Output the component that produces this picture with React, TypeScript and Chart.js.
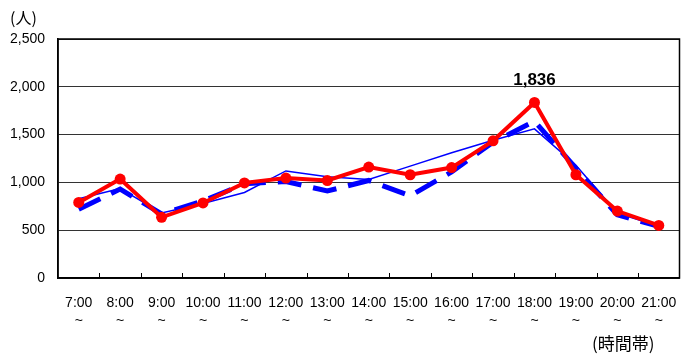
import React, { useEffect, useRef } from "react";
import { Chart, registerables } from "chart.js";

Chart.register(...registerables);

const categories = ["7:00", "8:00", "9:00", "10:00", "11:00", "12:00", "13:00", "14:00", "15:00", "16:00", "17:00", "18:00", "19:00", "20:00", "21:00"];
const redSeries = [790, 1035, 635, 785, 995, 1045, 1020, 1160, 1080, 1155, 1435, 1836, 1080, 700, 550];
const blueDashedSeries = [720, 930, 670, 805, 985, 1010, 910, 1020, 860, 1110, 1420, 1640, 1150, 660, 540];
const blueThinSeries = [830, 935, 680, 780, 895, 1120, 1060, 1030, 1170, 1310, 1440, 1560, 1180, 680, 540];
const yTicks = [0, 500, 1000, 1500, 2000, 2500];
const peakIndex = 11;
const yUnitLabel = "(人)";
const xUnitLabel = "(時間帯)";

const FONT = "'Liberation Sans', Arial, sans-serif";
const CJK = "'Noto Sans CJK JP', sans-serif";

const decorPlugin = {
  id: "decor",
  afterDraw(chart: any) {
    const { ctx, chartArea } = chart;
    const xs = chart.scales.x;
    ctx.save();
    ctx.strokeStyle = "#000";
    ctx.lineWidth = 1.5;
    ctx.strokeRect(chartArea.left, chartArea.top, chartArea.right - chartArea.left, chartArea.bottom - chartArea.top);
    ctx.lineWidth = 1;
    for (let i = 0; i < categories.length - 1; i++) {
      const x = Math.round((xs.getPixelForValue(i) + xs.getPixelForValue(i + 1)) / 2) + 0.5;
      ctx.beginPath();
      ctx.moveTo(x, chartArea.bottom);
      ctx.lineTo(x, chartArea.bottom - 5);
      ctx.stroke();
    }
    const meta = chart.getDatasetMeta(0);
    const pt = meta.data[peakIndex];
    ctx.fillStyle = "#000";
    ctx.font = "bold 17px " + FONT;
    ctx.textAlign = "center";
    ctx.textBaseline = "middle";
    ctx.fillText(redSeries[peakIndex].toLocaleString("en-US"), pt.x, pt.y - 22);
    ctx.textAlign = "left";
    ctx.font = "16px " + CJK;
    ctx.fillText(yUnitLabel, 10, 18);
    ctx.font = "17px " + CJK;
    ctx.fillText(xUnitLabel, 592, 344);
    ctx.restore();
  },
};

export default function App() {
  const ref = useRef<HTMLCanvasElement>(null);
  useEffect(() => {
    document.body.style.margin = "0";
    const chart = new Chart(ref.current!, {
      type: "line",
      data: {
        labels: categories.map((c) => [c, "~"]),
        datasets: [
          {
            data: redSeries,
            borderColor: "#ff0000",
            backgroundColor: "#ff0000",
            borderWidth: 4,
            pointRadius: 5.5,
            pointBorderWidth: 0,
            pointBackgroundColor: "#ff0000",
            tension: 0,
          },
          {
            data: blueThinSeries,
            borderColor: "#0000ff",
            borderWidth: 1.5,
            pointRadius: 0,
            tension: 0,
          },
          {
            data: blueDashedSeries,
            borderColor: "#0000ff",
            borderWidth: 5,
            borderDash: [24, 12],
            pointRadius: 0,
            tension: 0,
          },
        ],
      },
      options: {
        animation: false,
        responsive: false,
        layout: { padding: { left: 0, right: 4, top: 39, bottom: 0 } },
        plugins: { legend: { display: false }, tooltip: { enabled: false } },
        scales: {
          x: {
            offset: true,
            grid: { display: false, drawTicks: false },
            border: { display: true, color: "#000", width: 1.5 },
            ticks: {
              color: "#000",
              font: { family: FONT, size: 14, lineHeight: 1.3 },
              padding: 16,
              maxRotation: 0,
              autoSkip: false,
            },
            afterFit: (s: any) => {
              s.height = 76;
              s.paddingLeft = 0;
              s.paddingRight = 0;
            },
          },
          y: {
            min: 0,
            max: 2500,
            afterBuildTicks: (s: any) => {
              s.ticks = yTicks.map((v) => ({ value: v }));
            },
            grid: { color: "#333", lineWidth: 1, drawTicks: false },
            border: { display: true, color: "#000", width: 1.5 },
            ticks: {
              color: "#000",
              font: { family: FONT, size: 14 },
              padding: 13,
              callback: (v: any) => Number(v).toLocaleString("en-US"),
            },
            afterFit: (s: any) => {
              s.width = 58;
              s.paddingTop = 0;
              s.paddingBottom = 0;
            },
          },
        },
      },
      plugins: [decorPlugin],
    });
    return () => chart.destroy();
  }, []);
  return <canvas ref={ref} width={685} height={354} style={{ display: "block" }} />;
}
